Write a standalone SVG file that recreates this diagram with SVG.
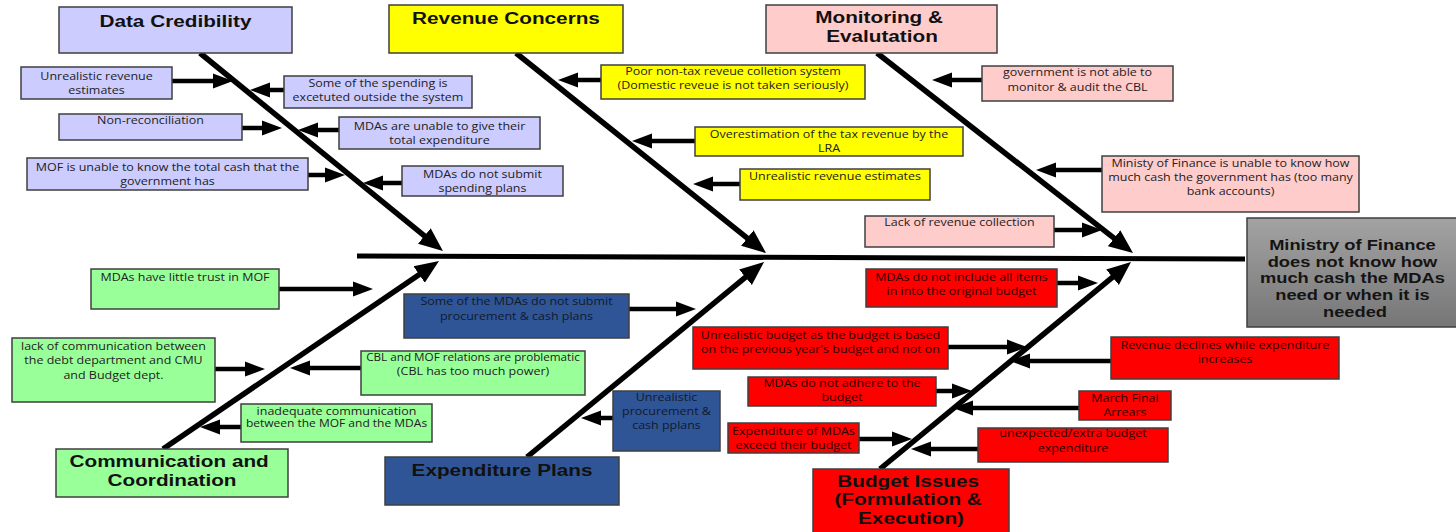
<svg xmlns="http://www.w3.org/2000/svg" width="1456" height="532" viewBox="0 0 1456 532">
  <style>
    .box { stroke: #3f3f3f; stroke-width: 1.5; }
    .lav { fill: #ccccff; }
    .yel { fill: #ffff00; }
    .pnk { fill: #ffcccc; }
    .grn { fill: #99ff99; }
    .blu { fill: #2f5597; }
    .red { fill: #ff0000; }
    .tt { font-family: "Liberation Sans", Arial, sans-serif; font-weight: bold; font-size: 17px; fill: #111; text-anchor: middle; }
    .et { font-family: "Liberation Sans", Arial, sans-serif; font-weight: bold; font-size: 15px; fill: #141414; text-anchor: middle; }
    .st { font-family: "Open Sans", "Noto Sans", sans-serif; font-size: 10.4px; fill: #222; text-anchor: middle; }
    .rt { fill: #2a0000; }
    .bt { fill: #111a2a; }
    .spine { stroke: #000; stroke-width: 5; fill: none; }
    .bone { stroke: #000; stroke-width: 5.5; fill: none; marker-end: url(#bh); }
    .br { stroke: #000; stroke-width: 4.5; fill: none; marker-end: url(#ah); }
  </style>
  <defs>
    <marker id="ah" markerUnits="userSpaceOnUse" markerWidth="20" markerHeight="16" refX="8" refY="8" orient="auto">
      <path d="M0,0.5 L20,8 L0,15.5 z" fill="#000"/>
    </marker>
    <marker id="bh" markerUnits="userSpaceOnUse" markerWidth="24" markerHeight="22" refX="10" refY="11" orient="auto">
      <path d="M0,1 L24,11 L0,21 z" fill="#000"/>
    </marker>
    <linearGradient id="effectFill" x1="0" y1="0" x2="0" y2="1">
      <stop offset="0" stop-color="#a3a3a3"/>
      <stop offset="1" stop-color="#767676"/>
    </linearGradient>
  </defs>

  <rect width="1456" height="532" fill="#ffffff"/>

  <!-- connectors: spine, category bones and cause arrows -->
  <g id="connectors">
    <line class="spine" x1="357" y1="256" x2="1245" y2="259"/>
    <line class="bone" x1="200" y1="53" x2="432.1" y2="242.2"/>
    <line class="bone" x1="516" y1="53" x2="755.1" y2="244.3"/>
    <line class="bone" x1="877" y1="53" x2="1122" y2="244.4"/>
    <line class="bone" x1="163" y1="449" x2="427.4" y2="268.9"/>
    <line class="bone" x1="527" y1="457" x2="753.2" y2="270.9"/>
    <line class="bone" x1="880" y1="469" x2="1120.2" y2="270.9"/>

    <line class="br" x1="172" y1="81" x2="221" y2="81"/>
    <line class="br" x1="284" y1="90" x2="262" y2="90"/>
    <line class="br" x1="242" y1="128" x2="270" y2="128"/>
    <line class="br" x1="339" y1="130" x2="310" y2="130"/>
    <line class="br" x1="308" y1="175" x2="333" y2="175"/>
    <line class="br" x1="402" y1="183" x2="375" y2="183"/>

    <line class="br" x1="601" y1="80" x2="570" y2="80"/>
    <line class="br" x1="695" y1="141" x2="644" y2="141"/>
    <line class="br" x1="740" y1="184" x2="705" y2="184"/>

    <line class="br" x1="982" y1="80" x2="944" y2="80"/>
    <line class="br" x1="1102" y1="170" x2="1048" y2="170"/>
    <line class="br" x1="1054" y1="230" x2="1090" y2="230"/>

    <line class="br" x1="279" y1="289" x2="361" y2="289"/>
    <line class="br" x1="215" y1="369" x2="253" y2="369"/>
    <line class="br" x1="361" y1="368" x2="302" y2="368"/>
    <line class="br" x1="241" y1="427" x2="212" y2="427"/>

    <line class="br" x1="629" y1="309" x2="684" y2="309"/>
    <line class="br" x1="613" y1="418" x2="593" y2="418"/>

    <line class="br" x1="1057" y1="283" x2="1086" y2="283"/>
    <line class="br" x1="948" y1="347" x2="1015" y2="347"/>
    <line class="br" x1="1111" y1="361" x2="1022" y2="361"/>
    <line class="br" x1="936" y1="391" x2="960" y2="391"/>
    <line class="br" x1="1079" y1="408" x2="965" y2="408"/>
    <line class="br" x1="859" y1="439" x2="900" y2="439"/>
    <line class="br" x1="978" y1="449" x2="923" y2="449"/>
  </g>

  <!-- effect -->
  <g id="effect">
    <rect class="box" x="1247" y="218" width="215" height="109" fill="url(#effectFill)"/>
    <text class="et" transform="matrix(1.22 0 0 1 1355 0)">
      <tspan x="0" y="250">Ministry of Finance</tspan>
      <tspan x="0" y="267">does not know how</tspan>
      <tspan x="0" y="283.5">much cash the MDAs</tspan>
      <tspan x="0" y="300.5">need or when it is</tspan>
      <tspan x="0" y="317">needed</tspan>
    </text>
  </g>

  <!-- category headings -->
  <g id="cat-data">
    <rect class="box lav" x="59" y="7" width="233" height="46"/>
    <text class="tt" transform="matrix(1.22 0 0 1 175.5 0)" x="0" y="27">Data Credibility</text>
  </g>
  <g id="cat-revenue">
    <rect class="box yel" x="389" y="5" width="234" height="48"/>
    <text class="tt" transform="matrix(1.22 0 0 1 506 0)" x="0" y="24">Revenue Concerns</text>
  </g>
  <g id="cat-monitoring">
    <rect class="box pnk" x="766" y="5" width="231" height="48"/>
    <text class="tt" transform="matrix(1.22 0 0 1 882 0)">
      <tspan x="0" y="23.5">Monitoring &amp;</tspan>
      <tspan x="0" y="42">Evalutation</tspan>
    </text>
  </g>
  <g id="cat-communication">
    <rect class="box grn" x="56" y="449" width="232" height="48"/>
    <text class="tt" transform="matrix(1.22 0 0 1 172 0)">
      <tspan x="0" y="467">Communication and</tspan>
      <tspan x="0" y="486">Coordination</tspan>
    </text>
  </g>
  <g id="cat-expenditure">
    <rect class="box blu" x="385" y="457" width="234" height="48"/>
    <text class="tt" transform="matrix(1.22 0 0 1 502 0)" x="0" y="476">Expenditure Plans</text>
  </g>
  <g id="cat-budget">
    <rect class="box red" x="813" y="469" width="196" height="70"/>
    <text class="tt" transform="matrix(1.22 0 0 1 911 0)">
      <tspan x="0" y="487.5">Budget Issues</tspan>
      <tspan x="0" y="505.5">(Formulation &amp;</tspan>
      <tspan x="0" y="524">Execution)</tspan>
    </text>
  </g>

  <!-- causes: data credibility -->
  <g id="data-unrealistic-estimates">
    <rect class="box lav" x="21" y="67" width="151" height="32"/>
    <text class="st" transform="matrix(1.2 0 0 1 96.5 0)"><tspan x="0" y="80.5">Unrealistic revenue</tspan><tspan x="0" y="94.5">estimates</tspan></text>
  </g>
  <g id="data-spending-outside">
    <rect class="box lav" x="284" y="76" width="188" height="32"/>
    <text class="st" transform="matrix(1.2 0 0 1 378 0)"><tspan x="0" y="87">Some of the spending is</tspan><tspan x="0" y="101">excetuted outside the system</tspan></text>
  </g>
  <g id="data-non-reconciliation">
    <rect class="box lav" x="59" y="114" width="183" height="26"/>
    <text class="st" transform="matrix(1.2 0 0 1 150.5 0)" x="0" y="124.5">Non-reconciliation</text>
  </g>
  <g id="data-total-expenditure">
    <rect class="box lav" x="339" y="117" width="201" height="32"/>
    <text class="st" transform="matrix(1.2 0 0 1 439.5 0)"><tspan x="0" y="130">MDAs are unable to give their</tspan><tspan x="0" y="144">total expenditure</tspan></text>
  </g>
  <g id="data-total-cash">
    <rect class="box lav" x="27" y="158" width="281" height="32"/>
    <text class="st" transform="matrix(1.2 0 0 1 167.5 0)"><tspan x="0" y="171">MOF is unable to know the total cash that the</tspan><tspan x="0" y="185">government has</tspan></text>
  </g>
  <g id="data-spending-plans">
    <rect class="box lav" x="402" y="166" width="161" height="30"/>
    <text class="st" transform="matrix(1.2 0 0 1 482.5 0)"><tspan x="0" y="178.5">MDAs do not submit</tspan><tspan x="0" y="192.5">spending plans</tspan></text>
  </g>

  <!-- causes: revenue concerns -->
  <g id="rev-non-tax">
    <rect class="box yel" x="601" y="65" width="264" height="34"/>
    <text class="st" transform="matrix(1.2 0 0 1 733 0)"><tspan x="0" y="75.5">Poor non-tax reveue colletion system</tspan><tspan x="0" y="89.5">(Domestic reveue is not taken seriously)</tspan></text>
  </g>
  <g id="rev-overestimation">
    <rect class="box yel" x="695" y="127" width="268" height="29"/>
    <text class="st" transform="matrix(1.2 0 0 1 829 0)"><tspan x="0" y="138.5">Overestimation of the tax revenue by the</tspan><tspan x="0" y="152.5">LRA</tspan></text>
  </g>
  <g id="rev-unrealistic">
    <rect class="box yel" x="740" y="169" width="190" height="31"/>
    <text class="st" transform="matrix(1.2 0 0 1 835 0)" x="0" y="180.5">Unrealistic revenue estimates</text>
  </g>

  <!-- causes: monitoring & evaluation -->
  <g id="mon-cbl-audit">
    <rect class="box pnk" x="982" y="66" width="191" height="35"/>
    <text class="st" transform="matrix(1.2 0 0 1 1077.5 0)"><tspan x="0" y="76.5">government is not able to</tspan><tspan x="0" y="91">monitor &amp; audit the CBL</tspan></text>
  </g>
  <g id="mon-bank-accounts">
    <rect class="box pnk" x="1102" y="156" width="257" height="56"/>
    <text class="st" transform="matrix(1.2 0 0 1 1230.5 0)"><tspan x="0" y="167">Ministy of Finance is unable to know how</tspan><tspan x="0" y="181">much cash the government has (too many</tspan><tspan x="0" y="195.5">bank accounts)</tspan></text>
  </g>
  <g id="mon-revenue-collection">
    <rect class="box pnk" x="865" y="216" width="189" height="31"/>
    <text class="st" transform="matrix(1.2 0 0 1 959.5 0)" x="0" y="226.5">Lack of revenue collection</text>
  </g>

  <!-- causes: communication and coordination -->
  <g id="com-trust">
    <rect class="box grn" x="91" y="269" width="188" height="40"/>
    <text class="st" transform="matrix(1.2 0 0 1 185 0)" x="0" y="281.5">MDAs have little trust in MOF</text>
  </g>
  <g id="com-debt-dept">
    <rect class="box grn" x="12" y="338" width="203" height="64"/>
    <text class="st" transform="matrix(1.2 0 0 1 113.5 0)"><tspan x="0" y="350.5">lack of communication between</tspan><tspan x="0" y="364.5">the debt department and CMU</tspan><tspan x="0" y="379">and Budget dept.</tspan></text>
  </g>
  <g id="com-cbl-relations">
    <rect class="box grn" x="361" y="351" width="224" height="44"/>
    <text class="st" transform="matrix(1.2 0 0 1 473 0)"><tspan x="0" y="361.5" textLength="178" lengthAdjust="spacingAndGlyphs">CBL and MOF relations are problematic</tspan><tspan x="0" y="375.5">(CBL has too much power)</tspan></text>
  </g>
  <g id="com-mof-mdas">
    <rect class="box grn" x="241" y="404" width="191" height="38"/>
    <text class="st" transform="matrix(1.2 0 0 1 336.5 0)" font-size="10"><tspan x="0" y="415">inadequate communication</tspan><tspan x="0" y="427.5" textLength="151" lengthAdjust="spacingAndGlyphs">between the MOF and the MDAs</tspan></text>
  </g>

  <!-- causes: expenditure plans -->
  <g id="exp-procurement-plans">
    <rect class="box blu" x="404" y="294" width="225" height="44"/>
    <text class="st bt" transform="matrix(1.2 0 0 1 516.5 0)"><tspan x="0" y="305.5">Some of the MDAs do not submit</tspan><tspan x="0" y="320.5">procurement &amp; cash plans</tspan></text>
  </g>
  <g id="exp-unrealistic-plans">
    <rect class="box blu" x="613" y="391" width="107" height="60"/>
    <text class="st bt" transform="matrix(1.2 0 0 1 666.5 0)"><tspan x="0" y="401.5">Unrealistic</tspan><tspan x="0" y="415.5">procurement &amp;</tspan><tspan x="0" y="429.5">cash pplans</tspan></text>
  </g>

  <!-- causes: budget issues -->
  <g id="bud-not-included">
    <rect class="box red" x="866" y="269" width="191" height="38"/>
    <text class="st rt" transform="matrix(1.2 0 0 1 961.5 0)"><tspan x="0" y="281.5">MDAs do not include all items</tspan><tspan x="0" y="295.5">in into the original budget</tspan></text>
  </g>
  <g id="bud-previous-year">
    <rect class="box red" x="693" y="327" width="255" height="42"/>
    <text class="st rt" transform="matrix(1.2 0 0 1 820.5 0)"><tspan x="0" y="339.5">Unrealistic budget as the budget is based</tspan><tspan x="0" y="353.5">on the previous year's budget and not on</tspan></text>
  </g>
  <g id="bud-revenue-declines">
    <rect class="box red" x="1111" y="337" width="228" height="42"/>
    <text class="st rt" transform="matrix(1.2 0 0 1 1225 0)"><tspan x="0" y="349.5">Revenue declines while expenditure</tspan><tspan x="0" y="363.5">increases</tspan></text>
  </g>
  <g id="bud-not-adhere">
    <rect class="box red" x="748" y="377" width="188" height="29"/>
    <text class="st rt" transform="matrix(1.2 0 0 1 842 0)"><tspan x="0" y="387.5">MDAs do not adhere to the</tspan><tspan x="0" y="401.5">budget</tspan></text>
  </g>
  <g id="bud-arrears">
    <rect class="box red" x="1079" y="391" width="92" height="29"/>
    <text class="st rt" transform="matrix(1.2 0 0 1 1125 0)"><tspan x="0" y="402.5">March Final</tspan><tspan x="0" y="416.5">Arrears</tspan></text>
  </g>
  <g id="bud-exceed">
    <rect class="box red" x="728" y="423" width="131" height="30"/>
    <text class="st rt" transform="matrix(1.2 0 0 1 793.5 0)"><tspan x="0" y="435.5">Expenditure of MDAs</tspan><tspan x="0" y="449.5">exceed their budget</tspan></text>
  </g>
  <g id="bud-unexpected">
    <rect class="box red" x="978" y="428" width="190" height="34"/>
    <text class="st rt" transform="matrix(1.2 0 0 1 1073 0)"><tspan x="0" y="437.5">unexpected/extra budget</tspan><tspan x="0" y="452.5">expenditure</tspan></text>
  </g>
</svg>
